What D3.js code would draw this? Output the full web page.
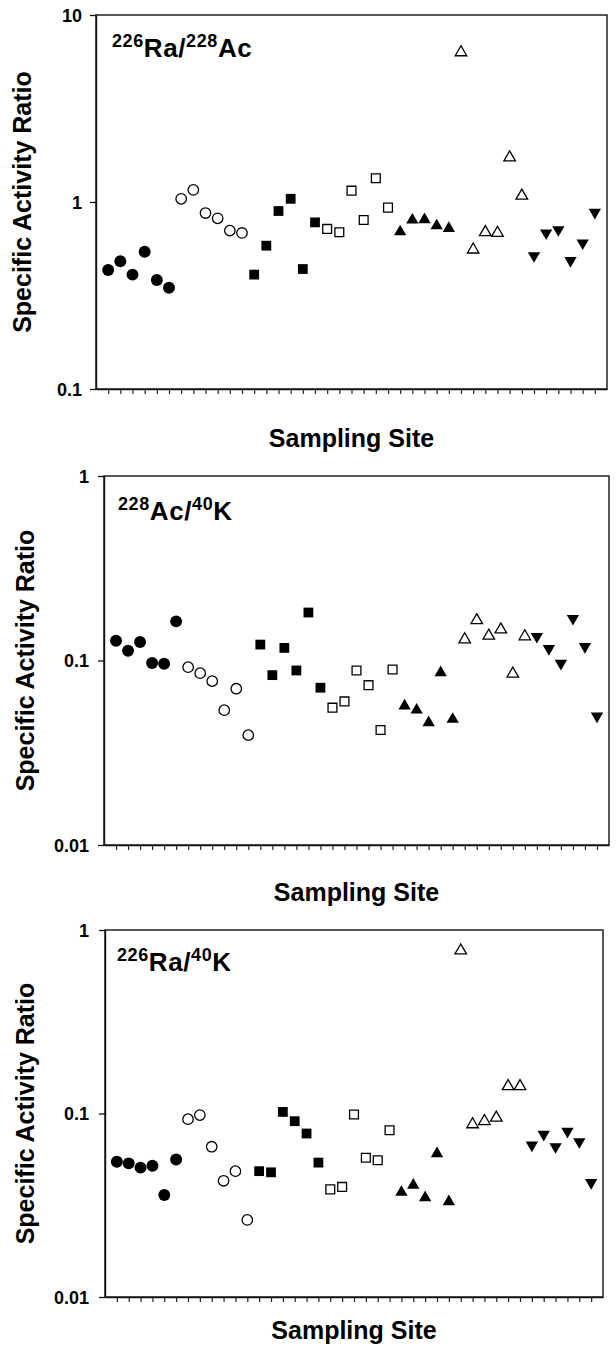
<!DOCTYPE html>
<html>
<head>
<meta charset="utf-8">
<script src="https://cdn.jsdelivr.net/npm/d3@7"></script>
<style>
  html, body { margin: 0; padding: 0; background: #fff; }
  svg { display: block; }
  text { font-family: "Liberation Sans", Arial, Helvetica, sans-serif; font-weight: bold; fill: #000; }
</style>
</head>
<body>
<svg id="chart" width="616" height="1350"></svg>
<script>
// ---- data ----
const groupNames = ["G1", "G2", "G3", "G4", "G5", "G6", "G7"];
const groupSizes = [6, 6, 6, 6, 5, 6, 6];
const groupShapes = ["circle", "circle", "square", "square", "triangle", "triangle", "triangleDown"];
const groupFilled = [true, false, true, false, true, false, true];

const raAcValues = [0.433, 0.482, 0.409, 0.542, 0.383, 0.348,
  1.04, 1.16, 0.873, 0.818, 0.703, 0.683,
  0.409, 0.584, 0.895, 1.04, 0.438, 0.778,
  0.718, 0.689, 1.15, 0.801, 1.34, 0.933,
  0.693, 0.801, 0.804, 0.746, 0.723,
  6.31, 0.556, 0.689, 0.683, 1.73, 1.08,
  0.516, 0.683, 0.711, 0.486, 0.604, 0.881];

const acKValues = [0.128, 0.113, 0.126, 0.097, 0.096, 0.163,
  0.092, 0.0854, 0.0773, 0.0538, 0.0703, 0.0394,
  0.122, 0.0833, 0.117, 0.0883, 0.182, 0.0712,
  0.0555, 0.060, 0.0883, 0.0735, 0.042, 0.0894,
  0.0567, 0.0539, 0.046, 0.0859, 0.048,
  0.130, 0.165, 0.136, 0.147, 0.0848, 0.135,
  0.135, 0.116, 0.0964, 0.169, 0.119, 0.050];

const raKValues = [0.0546, 0.0535, 0.0507, 0.0519, 0.036, 0.0562,
  0.0931, 0.098, 0.0659, 0.043, 0.0485, 0.0263,
  0.0485, 0.0478, 0.102, 0.0908, 0.0778, 0.054,
  0.0386, 0.0398, 0.0988, 0.0574, 0.0556, 0.0811,
  0.0372, 0.0407, 0.0348, 0.0604, 0.0331,
  0.772, 0.0872, 0.0908, 0.0947, 0.1406, 0.1406,
  0.0673, 0.0769, 0.0659, 0.080, 0.0702, 0.042];

const panel1Ticks = [10, 1, 0.1];
const panel1TickLabels = ["10", "1", "0.1"];
const panel2Ticks = [1, 0.1, 0.01];
const panel2TickLabels = ["1", "0.1", "0.01"];
const panel3Ticks = [1, 0.1, 0.01];
const panel3TickLabels = ["1", "0.1", "0.01"];

const xTitle = "Sampling Site";
const yTitle = "Specific Activity Ratio";

// ---- layout ----
const svg = d3.select("#chart");

const panels = [
  { values: raAcValues, domain: [0.1, 10], ticks: panel1Ticks, labels: panel1TickLabels,
    sup1: "226", el1: "Ra/", sup2: "228", el2: "Ac",
    left: 96, right: 607, top: 15, bottom: 389, labelX: 112, labelY: 57, yTitleX: 31, xTitleY: 447, tickLabelX: 82 },
  { values: acKValues, domain: [0.01, 1], ticks: panel2Ticks, labels: panel2TickLabels,
    sup1: "228", el1: "Ac/", sup2: "40", el2: "K",
    left: 104, right: 609, top: 476, bottom: 845, labelX: 118, labelY: 520, yTitleX: 34, xTitleY: 901, tickLabelX: 89 },
  { values: raKValues, domain: [0.01, 1], ticks: panel3Ticks, labels: panel3TickLabels,
    sup1: "226", el1: "Ra/", sup2: "40", el2: "K",
    left: 105, right: 603, top: 930, bottom: 1297, labelX: 117, labelY: 971, yTitleX: 34, xTitleY: 1339, tickLabelX: 89 }
];

// build site records
const sites = [];
let idx = 1;
groupSizes.forEach((n, g) => {
  for (let k = 0; k < n; k++) sites.push({ site: idx++, group: g });
});

function symbolPath(shape, filled) {
  let type, size;
  if (shape === "circle") { type = d3.symbolCircle; size = filled ? 112 : 86; }
  else if (shape === "square") { type = d3.symbolSquare; size = filled ? 96 : 78; }
  else { type = d3.symbolTriangle; size = filled ? 66 : 58; }
  return d3.symbol().type(type).size(size)();
}

panels.forEach(p => {
  const x = d3.scaleLinear().domain([0, 42]).range([p.left, p.right]);
  const y = d3.scaleLog().domain(p.domain).range([p.bottom, p.top]);
  const g = svg.append("g");

  // frame
  g.append("rect")
    .attr("x", p.left).attr("y", p.top)
    .attr("width", p.right - p.left).attr("height", p.bottom - p.top)
    .attr("fill", "none").attr("stroke", "#111").attr("stroke-width", 1.4);

  // x axis ticks
  const xAxis = d3.axisBottom(x).tickValues(d3.range(1, 42)).tickSize(5).tickSizeOuter(0).tickFormat("");
  const xg = g.append("g").attr("transform", `translate(0,${p.bottom})`).call(xAxis);
  xg.select(".domain").attr("stroke", "#111").attr("stroke-width", 1.4);
  xg.selectAll(".tick line").attr("stroke", "#222").attr("stroke-width", 1.2);

  // y axis
  const yAxis = d3.axisLeft(y).tickValues(p.ticks).tickSize(6).tickSizeOuter(0).tickFormat((d, i) => p.labels[i]);
  const yg = g.append("g").attr("transform", `translate(${p.left},0)`).call(yAxis);
  yg.select(".domain").attr("stroke", "#111").attr("stroke-width", 1.4);
  yg.selectAll(".tick line").attr("stroke", "#111").attr("stroke-width", 1.3);
  yg.selectAll(".tick text")
    .attr("x", p.tickLabelX - p.left).attr("dy", "0.36em")
    .attr("font-size", 18)
    .style("font-size", "18px").style("font-weight", "bold")
    .style("font-family", "'Liberation Sans', Arial, sans-serif").attr("fill", "#000");

  // markers
  g.append("g").selectAll("path")
    .data(sites)
    .join("path")
    .attr("d", d => symbolPath(groupShapes[d.group], groupFilled[d.group]))
    .attr("transform", d => {
      const rot = groupShapes[d.group] === "triangleDown" ? " rotate(180)" : "";
      return `translate(${x(d.site)},${y(p.values[d.site - 1])})${rot}`;
    })
    .attr("fill", d => groupFilled[d.group] ? "#000" : "#fff")
    .attr("stroke", "#000")
    .attr("stroke-width", d => groupFilled[d.group] ? 0 : 1.3);

  // panel label with superscripts
  const lbl = g.append("text")
    .attr("x", p.labelX).attr("y", p.labelY)
    .style("font-size", "26px").style("letter-spacing", "0.6px");
  lbl.append("tspan").text(p.sup1).style("font-size", "18px").attr("dy", "-10");
  lbl.append("tspan").text(p.el1).attr("dy", "10");
  lbl.append("tspan").text(p.sup2).style("font-size", "18px").attr("dy", "-10");
  lbl.append("tspan").text(p.el2).attr("dy", "10");

  // axis titles
  g.append("text")
    .attr("x", (p.left + p.right) / 2).attr("y", p.xTitleY)
    .attr("text-anchor", "middle")
    .style("font-size", "25px")
    .text(xTitle);

  g.append("text")
    .attr("transform", `translate(${p.yTitleX},${(p.top + p.bottom) / 2}) rotate(-90)`)
    .attr("text-anchor", "middle")
    .style("font-size", "25px")
    .text(yTitle);
});
</script>
</body>
</html>
